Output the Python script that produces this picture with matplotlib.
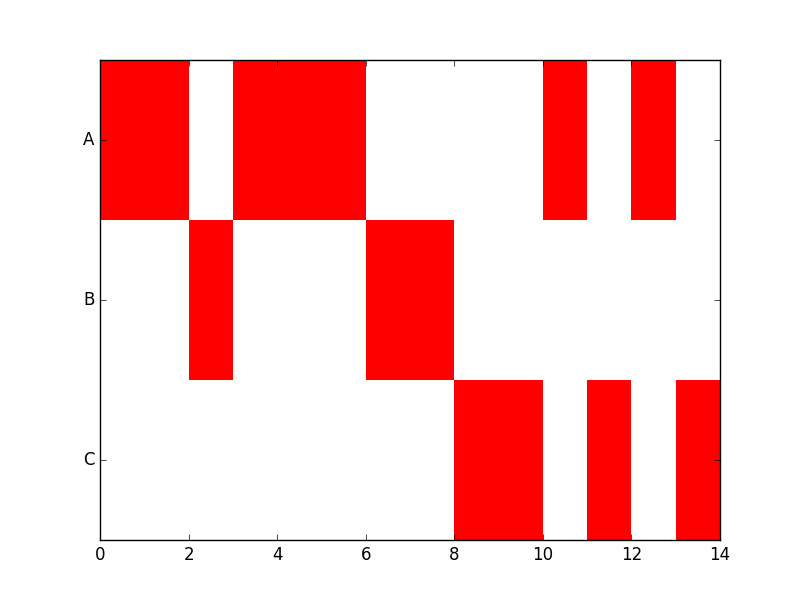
import matplotlib
matplotlib.use('Agg')
import matplotlib.pyplot as plt

plt.style.use('classic')

categories = ['C', 'B', 'A']
states = ['A', 'A', 'B', 'A', 'A', 'A', 'B', 'B', 'C', 'C', 'A', 'C', 'A', 'C']
times = list(range(len(states)))

fig = plt.figure(figsize=(8, 6), dpi=100)
ax = fig.add_subplot(111)

ypos = [categories.index(s) for s in states]
ax.barh(ypos, [1] * len(times), left=times, height=1.0, align='center',
        color='red', edgecolor='none', linewidth=0)

ax.set_yticks(range(len(categories)))
ax.set_yticklabels(categories)
ax.set_ylim(-0.5, len(categories) - 0.5)
ax.set_xlim(0, 14)
ax.set_xticks(range(0, 15, 2))

fig.savefig('out.png', dpi=100)
